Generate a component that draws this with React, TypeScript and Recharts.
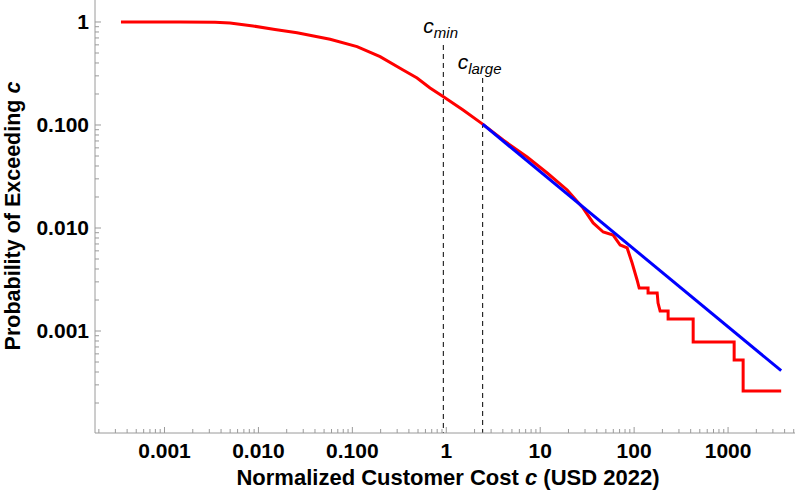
import React from 'react';
import { LineChart, Line, XAxis, YAxis, ReferenceLine, Label } from 'recharts';

// Empirical exceedance curve (red)
const redCost = [
  0.000344, 0.001466, 0.00345, 0.00498, 0.00876, 0.015, 0.02577, 0.0579, 0.1122, 0.1974,
  0.347, 0.4887, 0.672, 0.9244, 1.51, 2.44, 4.028, 7.255, 11.87, 19.39,
  28.61, 36.63, 46.82, 59.76, 71.0, 84.24, 95.2, 107.5, 113.2, 140.7,
  140.7, 175.9, 179.7, 189.1, 230.0, 230.0, 425.1, 425.1, 1161, 1161,
  1447, 1447, 3677,
];
const redProb = [
  1, 1, 0.993, 0.978, 0.915, 0.846, 0.787, 0.679, 0.576, 0.461,
  0.342, 0.286, 0.229, 0.189, 0.14, 0.102, 0.0715, 0.0489, 0.0342, 0.0234,
  0.0156, 0.0112, 0.00914, 0.00855, 0.00684, 0.0064, 0.00457, 0.00313, 0.00261, 0.00261,
  0.00234, 0.00234, 0.00187, 0.00156, 0.00156, 0.00131, 0.00131, 0.000782, 0.000782, 0.000523,
  0.000523, 0.000261, 0.000261,
];

// Power-law fit (blue)
const fitCost = [2.44, 3677];
const fitProb = [0.102, 0.000412];

// Thresholds
const cMin = 0.93;
const cLarge = 2.44;
const cMinTop = 0.598;
const cLargeTop = 0.286;

// Axes
const xDomain = [0.000182, 5160];
const yDomain = [0.0001023, 1.635];
const xMajorTicks = [0.001, 0.01, 0.1, 1, 10, 100, 1000];
const xMajorLabels = ['0.001', '0.010', '0.100', '1', '10', '100', '1000'];
const yMajorTicks = [0.001, 0.01, 0.1, 1];
const yMajorLabels = ['0.001', '0.010', '0.100', '1'];
const minorMultipliers = [2, 3, 4, 5, 6, 7, 8, 9];
const xDecades = [0.0001, 0.001, 0.01, 0.1, 1, 10, 100, 1000];
const yDecades = [0.0001, 0.001, 0.01, 0.1];

const FONT = '"Liberation Sans", Arial, Helvetica, sans-serif';
const AXIS_COLOR = '#9a9a9a';

const redData = redCost.map((c, i) => ({ cost: c, prob: redProb[i] }));
const fitData = fitCost.map((c, i) => ({ cost: c, prob: fitProb[i] }));

const inRange = (v: number, d: number[]) => v >= d[0] && v <= d[1];
const xMinor = xDecades.flatMap((d) => minorMultipliers.map((m) => m * d)).filter((v) => inRange(v, xDomain));
const yMinor = yDecades.flatMap((d) => minorMultipliers.map((m) => m * d)).filter((v) => inRange(v, yDomain));
const xTicks = [...xMajorTicks, ...xMinor].sort((a, b) => a - b);
const yTicks = [...yMajorTicks, ...yMinor].sort((a, b) => a - b);

const findMajor = (ticks: number[], v: number) => ticks.findIndex((t) => Math.abs(t - v) / t < 1e-6);

const XTick = (props: any) => {
  const { x, y, payload } = props;
  const idx = findMajor(xMajorTicks, payload.value);
  const major = idx >= 0;
  return (
    <g>
      <line x1={x} x2={x} y1={y} y2={y - (major ? 6 : 4)} stroke={AXIS_COLOR} strokeWidth={1} />
      {major && (
        <text x={x} y={y + 25} textAnchor="middle" fontFamily={FONT} fontWeight="bold" fontSize={21} fill="#000">
          {xMajorLabels[idx]}
        </text>
      )}
    </g>
  );
};

const YTick = (props: any) => {
  const { x, y, payload } = props;
  const idx = findMajor(yMajorTicks, payload.value);
  const major = idx >= 0;
  return (
    <g>
      <line x1={x} x2={x + (major ? 6 : 4)} y1={y} y2={y} stroke={AXIS_COLOR} strokeWidth={1} />
      {major && (
        <text x={x - 6} y={y + 7} textAnchor="end" fontFamily={FONT} fontWeight="bold" fontSize={21} fill="#000">
          {yMajorLabels[idx]}
        </text>
      )}
    </g>
  );
};

const SubLabel = ({ viewBox, main, sub, dx, dy }: any) => {
  const { x, y } = viewBox || { x: 0, y: 0 };
  return (
    <text x={x + dx} y={y + dy} fontFamily={FONT} fontStyle="italic" fontSize={21} fill="#000">
      {main}
      <tspan fontSize={15} dy={5}>{sub}</tspan>
    </text>
  );
};

export default function App() {
  return (
    <div style={{ position: 'absolute', left: 0, top: 0, width: 797, height: 500, background: '#fff' }}>
      <LineChart width={797} height={500} margin={{ top: 0, right: 2, bottom: 0, left: 0 }}>
        <XAxis
          dataKey="cost"
          type="number"
          scale="log"
          domain={xDomain}
          allowDataOverflow
          ticks={xTicks}
          interval={0}
          tick={<XTick />}
          tickLine={false}
          tickSize={0}
          tickMargin={0}
          height={67}
          axisLine={{ stroke: AXIS_COLOR }}
        >
          <Label
            content={() => (
              <text x={448} y={485} textAnchor="middle" fontFamily={FONT} fontWeight="bold" fontSize={22} fill="#000">
                Normalized Customer Cost <tspan fontStyle="italic">c</tspan> (USD 2022)
              </text>
            )}
          />
        </XAxis>
        <YAxis
          type="number"
          scale="log"
          domain={yDomain}
          allowDataOverflow
          ticks={yTicks}
          interval={0}
          tick={<YTick />}
          tickLine={false}
          tickSize={0}
          tickMargin={0}
          width={95}
          axisLine={{ stroke: AXIS_COLOR }}
        >
          <Label
            content={() => (
              <text
                transform="translate(20,216) rotate(-90)"
                textAnchor="middle"
                fontFamily={FONT}
                fontWeight="bold"
                fontSize={21.5}
                fill="#000"
              >
                Probability of Exceeding <tspan fontStyle="italic">c</tspan>
              </text>
            )}
          />
        </YAxis>
        <ReferenceLine
          segment={[
            { x: cMin, y: cMinTop },
            { x: cMin, y: yDomain[0] },
          ]}
          stroke="#000"
          strokeWidth={1}
          strokeDasharray="5 4"
          label={(p: any) => <SubLabel {...p} main="c" sub="min" dx={-20} dy={-12} />}
        />
        <ReferenceLine
          segment={[
            { x: cLarge, y: cLargeTop },
            { x: cLarge, y: yDomain[0] },
          ]}
          stroke="#000"
          strokeWidth={1}
          strokeDasharray="5 4"
          label={(p: any) => <SubLabel {...p} main="c" sub="large" dx={-25} dy={-9} />}
        />
        <Line
          data={redData}
          dataKey="prob"
          stroke="#ff0000"
          strokeWidth={3}
          dot={false}
          isAnimationActive={false}
        />
        <Line
          data={fitData}
          dataKey="prob"
          stroke="#0000ff"
          strokeWidth={3}
          dot={false}
          isAnimationActive={false}
        />
      </LineChart>
    </div>
  );
}
